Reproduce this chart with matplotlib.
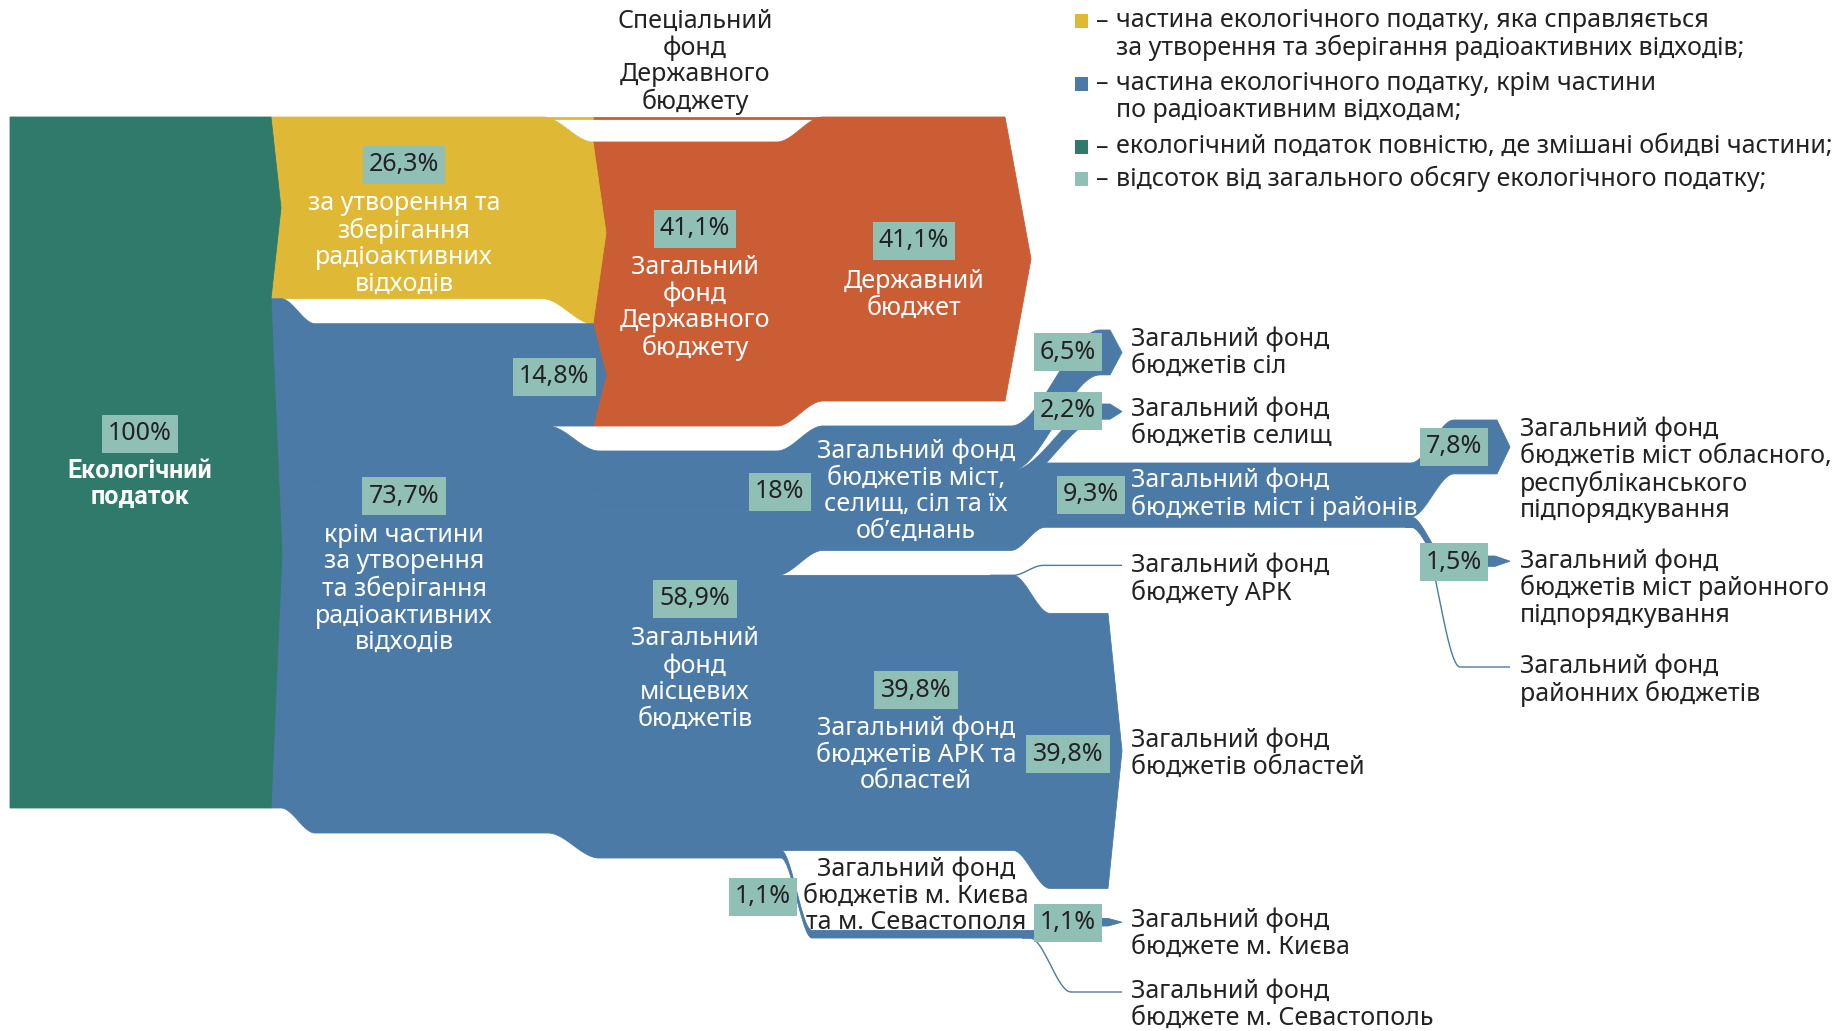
import numpy as np
import matplotlib.pyplot as plt
from matplotlib.patches import Polygon, Rectangle

plt.rcParams['font.family'] = ['Noto Sans', 'DejaVu Sans']
plt.rcParams['font.weight'] = 'light'

# Частки від загального обсягу екологічного податку, %
total = 100
radio_part = 26.3
other_part = 73.7
to_state_part = 14.8
state_general = 41.1
state_budget = 41.1
local_part = 58.9
cities_villages = 18
ark_oblasts = 39.8
kyiv_sev = 1.1
villages = 6.5
settlements = 2.2
cities_districts = 9.3
oblast_cities = 7.8
district_cities = 1.5
district_budgets = 0
ark_budget = 0
oblast_budgets = 39.8
kyiv_budget = 1.1
sev_budget = 0
special_fund = 0

legend_texts = ['частина екологічного податку, яка справляється\nза утворення та зберігання радіоактивних відходів;',
                'частина екологічного податку, крім частини\nпо радіоактивним відходам;',
                'екологічний податок повністю, де змішані обидві частини;',
                'відсоток від загального обсягу екологічного податку;']

GREEN = '#2f7a6b'
YELLOW = '#dfb936'
ORANGE = '#cb5d34'
BLUE = '#4b7aa6'
TEAL = '#8fbfb5'
DARK = '#222222'

FS = 18
LS = 1.08

K = 6.91   # пікселів на 1 %
G = 25     # проміжок між потоками
Y0 = 117

fig = plt.figure(figsize=(18.38, 10.31), dpi=100)
ax = fig.add_axes([0, 0, 1, 1])
ax.set_xlim(0, 1838)
ax.set_ylim(1031, 0)
ax.axis('off')


def smooth_path(keys, n=60):
    xs, ys = [keys[0][0]], [keys[0][1]]
    for (x0, y0), (x1, y1) in zip(keys[:-1], keys[1:]):
        t = np.linspace(0, 1, n)[1:]
        s = t * t * (3 - 2 * t)
        xs.extend(x0 + (x1 - x0) * t)
        ys.extend(y0 + (y1 - y0) * s)
    return np.array(xs), np.array(ys)


def ribbon(keys, value, color, tip=0, z=1):
    h = value * K
    x, top = smooth_path(keys)
    verts = list(zip(x, top))
    if tip:
        verts.append((x[-1] + tip, top[-1] + h / 2))
    verts += list(zip(x[::-1], top[::-1] + h))
    ax.add_patch(Polygon(verts, closed=True, fc=color, ec=color, lw=0.6, zorder=z))


def thread(keys, color, lw=1.0):
    x, y = smooth_path(keys)
    ax.plot(x, y, color=color, lw=lw, zorder=1, solid_capstyle='butt')


def shifted(keys, dy):
    return [(x, y + dy) for x, y in keys]


def fmt(v):
    return f'{v:g}'.replace('.', ',') + '%'


def pct(x, y, v):
    ax.text(x, y, fmt(v), ha='center', va='center', fontsize=FS, color=DARK, zorder=6,
            bbox=dict(boxstyle='square,pad=0.25', fc=TEAL, ec='none'))


def label(x, y, s, color='white', ha='center', **kw):
    ax.text(x, y, s, ha=ha, va='center', fontsize=FS, color=color, zorder=6,
            linespacing=LS, **kw)


y_blue = Y0 + radio_part * K
y_local = y_blue + to_state_part * K

# Державний бюджет
ribbon([(593, Y0 + G), (777, Y0 + G), (823, Y0), (1005, Y0)], state_budget, ORANGE, tip=26)
# радіоактивні відходи -> загальний фонд держбюджету
ribbon([(271, Y0), (543, Y0), (593, Y0 + G)], radio_part, YELLOW, tip=13, z=2)
# решта -> загальний фонд держбюджету
ribbon([(271, y_blue), (281, y_blue), (315, y_blue + G), (593, y_blue + G)], to_state_part, BLUE, tip=13, z=2)

trunk = [(271, y_local), (281, y_local), (315, y_local + G), (548, y_local + G), (599, y_local + 2 * G)]

# міста, селища, села
cv = trunk + [(777, y_local + 2 * G), (823, y_local + G), (1011, y_local + G)]
ribbon(cv + [(1100, 330), (1110, 330)], villages, BLUE, tip=12)
ribbon(shifted(cv, villages * K) + [(1100, 404), (1110, 404)], settlements, BLUE, tip=12)
cd = shifted(cv, (villages + settlements) * K) + [(1045, 463), (1411, 463)]
ribbon(cd + [(1454, 420), (1497, 420)], oblast_cities, BLUE, tip=13)
ribbon(shifted(cd, oblast_cities * K) + [(1445, 556), (1495, 556)], district_cities, BLUE, tip=15)
y_d = 463 + (oblast_cities + district_cities) * K
thread([(1405, y_d), (1418, y_d), (1460, 667 - district_budgets * K), (1510, 667)], BLUE)

# АРК та області
y_ao = y_local + 2 * G + cities_villages * K
ribbon(shifted(trunk, cities_villages * K) + [(1013, y_ao), (1050, y_ao + 38), (1108, y_ao + 38)],
       oblast_budgets, BLUE, tip=14)
thread([(990, y_ao), (1013, y_ao), (1043, y_ao - 10 - ark_budget * K), (1122, y_ao - 10)], BLUE)

# Київ та Севастополь
y_k = y_ao + ark_oblasts * K
ribbon(shifted(trunk, (cities_villages + ark_oblasts) * K) +
       [(781, y_k), (812, y_k + 80), (1030, y_k + 80), (1100, y_k + 68), (1108, y_k + 68)],
       kyiv_budget, BLUE, tip=14)
thread([(1022, y_k + 80 + kyiv_sev * K), (1030, y_k + 80 + kyiv_sev * K), (1071, 992 - sev_budget * K), (1122, 992)], BLUE)

# спеціальний фонд
thread([(543, Y0 + 0.5), (593, Y0 + 0.5)], YELLOW, lw=2)
thread([(593, Y0 + 0.5), (823, Y0 + 0.5)], ORANGE, lw=2)

# екологічний податок
yb = Y0 + total * K
ax.add_patch(Polygon([(10, Y0), (271, Y0), (281, Y0 + radio_part * K / 2), (271, y_blue),
                      (282, y_blue + other_part * K / 2), (271, yb), (10, yb)],
                     closed=True, fc=GREEN, ec=GREEN, lw=0.6, zorder=3))

# підписи всередині потоків
pct(140, 434, total)
label(140, 484, 'Екологічний\nподаток', fontweight='bold', family=['Roboto', 'DejaVu Sans'])
pct(404, 165, radio_part)
label(404, 244, 'за утворення та\nзберігання\nрадіоактивних\nвідходів')
pct(404, 496, other_part)
label(404, 589, 'крім частини\nза утворення\nта зберігання\nрадіоактивних\nвідходів')
pct(554, 377, to_state_part)
pct(695, 229, state_general)
label(695, 308, 'Загальний\nфонд\nДержавного\nбюджету')
pct(914, 241, state_budget)
label(914, 295, 'Державний\nбюджет')
label(695, 62, 'Спеціальний\nфонд\nДержавного\nбюджету', color=DARK)
pct(780, 492, cities_villages)
label(916, 491, 'Загальний фонд\nбюджетів міст,\nселищ, сіл та їх\nоб’єднань')
pct(695, 599, local_part)
label(695, 679, 'Загальний\nфонд\nмісцевих\nбюджетів')
pct(916, 690, ark_oblasts)
label(916, 755, 'Загальний фонд\nбюджетів АРК та\nобластей')
pct(763, 897, kyiv_sev)
label(916, 896, 'Загальний фонд\nбюджетів м. Києва\nта м. Севастополя', color=DARK)

pct(1068, 352, villages)
pct(1068, 411, settlements)
pct(1091, 495, cities_districts)
pct(1068, 754, oblast_budgets)
pct(1068, 923, kyiv_budget)
pct(1454, 447, oblast_cities)
pct(1454, 562, district_cities)

# підписи кінцевих вузлів
label(1131, 353, 'Загальний фонд\nбюджетів сіл', color=DARK, ha='left')
label(1131, 423, 'Загальний фонд\nбюджетів селищ', color=DARK, ha='left')
label(1131, 494, 'Загальний фонд\nбюджетів міст і районів', ha='left')
label(1131, 579, 'Загальний фонд\nбюджету АРК', color=DARK, ha='left')
label(1131, 754, 'Загальний фонд\nбюджетів областей', color=DARK, ha='left')
label(1131, 934, 'Загальний фонд\nбюджете м. Києва', color=DARK, ha='left')
label(1131, 1005, 'Загальний фонд\nбюджете м. Севастополь', color=DARK, ha='left')
label(1520, 470, 'Загальний фонд\nбюджетів міст обласного,\nреспубліканського\nпідпорядкування', color=DARK, ha='left')
label(1520, 588, 'Загальний фонд\nбюджетів міст районного\nпідпорядкування', color=DARK, ha='left')
label(1520, 680, 'Загальний фонд\nрайонних бюджетів', color=DARK, ha='left')

# легенда
legend_colors = [YELLOW, BLUE, GREEN, TEAL]
legend_rows = [21, 84, 147, 179]
for c, t, y in zip(legend_colors, legend_texts, legend_rows):
    ax.add_patch(Rectangle((1075, y - 7), 13, 14, fc=c, ec='none'))
    ax.text(1096, y, '–', ha='left', va='center', fontsize=FS, color=DARK)
    ax.text(1116, y - 13, t, ha='left', va='top', fontsize=FS, color=DARK, linespacing=LS)

fig.savefig('out.png', dpi=100)
